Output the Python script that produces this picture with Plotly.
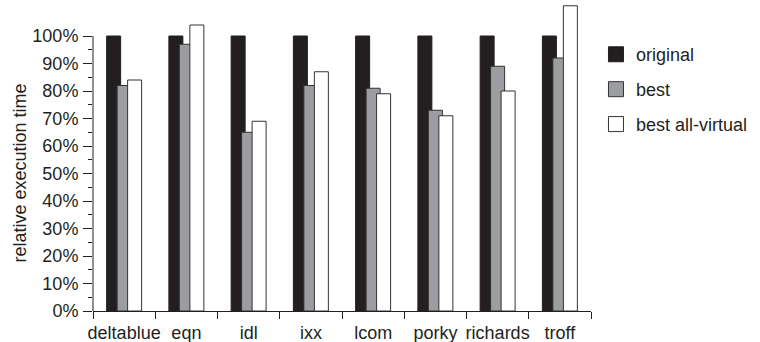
import plotly.graph_objects as go

categories = ["deltablue", "eqn", "idl", "ixx", "lcom", "porky", "richards", "troff"]
original = [1.00, 1.00, 1.00, 1.00, 1.00, 1.00, 1.00, 1.00]
best = [0.82, 0.97, 0.65, 0.82, 0.81, 0.73, 0.89, 0.92]
best_all_virtual = [0.84, 1.04, 0.69, 0.87, 0.79, 0.71, 0.80, 1.11]
y_ticks = [i / 10 for i in range(11)]
y_tick_labels = [f"{i * 10}%" for i in range(11)]
y_minor = [i / 10 + 0.05 for i in range(10)]
y_title = "relative execution time"

FONT = "Liberation Sans, Arial, sans-serif"
TXT = "#231f20"
BLACK = "#231f20"
GREY = "#9c9da1"
EDGE = "#333333"
FS = 18

fig = go.Figure()
W = 0.225
fig.add_trace(go.Bar(x=categories, y=original, width=W, offset=-0.281,
                     marker=dict(color=BLACK, line=dict(color=BLACK, width=1)),
                     showlegend=False, name="original"))
fig.add_trace(go.Bar(x=categories, y=best, width=W, offset=-0.1125,
                     marker=dict(color=GREY, line=dict(color=EDGE, width=1)),
                     showlegend=False, name="best"))
fig.add_trace(go.Bar(x=categories, y=best_all_virtual, width=W, offset=0.056,
                     marker=dict(color="white", line=dict(color=EDGE, width=1)),
                     showlegend=False, name="best all-virtual"))

# legend entries
for nm, col, ln in [("original", BLACK, BLACK), ("best", GREY, EDGE), ("best all-virtual", "white", EDGE)]:
    fig.add_trace(go.Scatter(x=[None], y=[None], mode="markers", name=nm, legendgroup=nm,
                             marker=dict(symbol="square", size=15, color=col, line=dict(color=ln, width=1))))

# y axis line only from 0 to 100%
fig.add_shape(type="line", xref="paper", yref="y", x0=0, x1=0, y0=0, y1=1,
              line=dict(color=BLACK, width=1))

# y axis title centred on the 0-100% span
fig.add_annotation(text=y_title, textangle=-90, xref="paper", yref="y", x=0, y=0.5,
                   xanchor="center", yanchor="middle", xshift=-74, showarrow=False,
                   font=dict(size=FS, color=TXT, family=FONT))

fig.update_layout(
    width=760, height=342,
    margin=dict(l=93, r=169, t=0, b=31),
    paper_bgcolor="white", plot_bgcolor="white",
    barmode="overlay",
    font=dict(family=FONT, size=FS, color=TXT),
    legend=dict(x=1.010, xanchor="left", y=0.884, yanchor="top",
                font=dict(size=FS, color=TXT), tracegroupgap=8.5,
                traceorder="grouped", itemsizing="trace", bgcolor="rgba(0,0,0,0)"),
    xaxis=dict(type="category", range=[-0.5, 7.5], showline=True, linecolor=BLACK, linewidth=1,
               ticks="outside", tickson="boundaries", ticklen=7, tickcolor=BLACK,
               tickangle=0, automargin=False, ticklabelstandoff=5,
               showgrid=False, zeroline=False, tickfont=dict(size=FS, color=TXT)),
    yaxis=dict(range=[0, 1.1309], showline=False, showgrid=False, zeroline=False, automargin=False,
               tickvals=y_ticks, ticktext=y_tick_labels, ticks="outside", ticklen=9,
               tickcolor=BLACK, tickfont=dict(size=FS, color=TXT), ticklabelstandoff=1,
               minor=dict(tickvals=y_minor, ticks="outside", ticklen=4, tickcolor=BLACK, showgrid=False)),
)

fig.write_html("out.html", config={"displayModeBar": False},
               post_script="document.body.style.margin='0';document.body.style.overflow='hidden';")
